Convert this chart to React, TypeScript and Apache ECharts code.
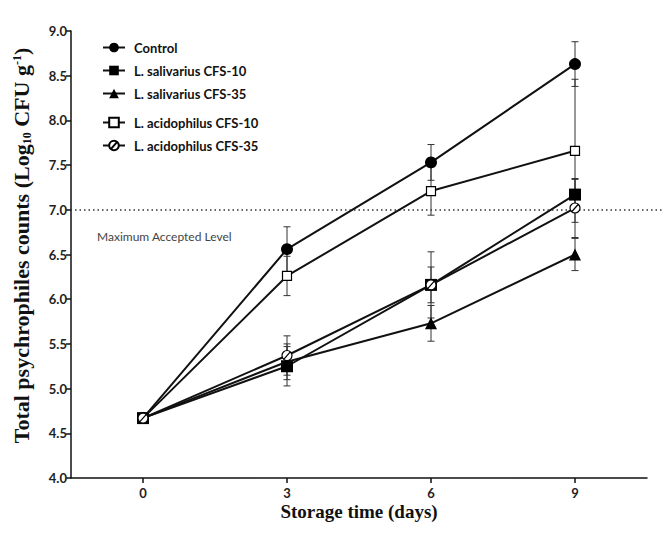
import React, { useEffect, useRef } from "react";
import * as echarts from "echarts";

const days = [0, 3, 6, 9];
const seriesNames = [
  "Control",
  "L. salivarius CFS-10",
  "L. salivarius CFS-35",
  "L. acidophilus CFS-10",
  "L. acidophilus CFS-35",
];
const controlMean = [4.67, 6.56, 7.53, 8.63];
const controlSd = [0, 0.25, 0.2, 0.25];
const salivarius10Mean = [4.67, 5.25, 6.16, 7.17];
const salivarius10Sd = [0, 0.22, 0.37, 0.17];
const salivarius35Mean = [4.67, 5.3, 5.73, 6.5];
const salivarius35Sd = [0, 0.2, 0.2, 0.18];
const acidophilus10Mean = [4.67, 6.26, 7.21, 7.66];
const acidophilus10Sd = [0, 0.22, 0.27, 0.8];
const acidophilus35Mean = [4.67, 5.37, 6.16, 7.02];
const acidophilus35Sd = [0, 0.22, 0.2, 0.33];
const yTicks = [4, 9, 0.5];
const limitValue = 7.0;

const slashCircle =
  "path://M0,10 A10,10 0 1,1 20,10 A10,10 0 1,1 0,10 Z M3,18 L17,2";

export default function App() {
  const ref = useRef<HTMLDivElement>(null);
  useEffect(() => {
    const chart = echarts.init(ref.current!, null, { renderer: "svg" });
    const means = [controlMean, salivarius10Mean, salivarius35Mean, acidophilus10Mean, acidophilus35Mean];
    const sds = [controlSd, salivarius10Sd, salivarius35Sd, acidophilus10Sd, acidophilus35Sd];
    const symbols = ["circle", "rect", "triangle", "rect", slashCircle];
    const sizes = [12, 12, 12, 9, 10];
    const fills = ["#000", "#000", "#000", "#fff", "#fff"];

    const errData: number[][] = [];
    means.forEach((m, si) => {
      m.forEach((v, i) => {
        if (sds[si][i] > 0) errData.push([days[i], v - sds[si][i], v + sds[si][i]]);
      });
    });

    const lineSeries = seriesNames.map((name, si) => ({
      name,
      type: "line",
      xAxisIndex: 0,
      yAxisIndex: 0,
      data: days.map((d, i) => [d, means[si][i]]),
      symbol: symbols[si],
      symbolSize: sizes[si],
      showAllSymbol: true,
      lineStyle: { color: "#111", width: 2 },
      itemStyle: { color: fills[si], borderColor: "#000", borderWidth: si >= 3 ? 1.2 : 0 },
      z: 3 + si,
    }));

    const legendText = {
      fontFamily: "Lato",
      fontWeight: "bold",
      fontSize: 13,
      color: "#111",
      padding: [0, 0, 0, 4],
    };

    chart.setOption({
      animation: false,
      backgroundColor: "#fff",
      legend: [
        {
          data: seriesNames.slice(0, 3),
          orient: "vertical",
          left: 102,
          top: 41,
          padding: 0,
          itemWidth: 22,
          itemHeight: 12,
          itemGap: 10,
          textStyle: legendText,
        },
        {
          data: seriesNames.slice(3),
          orient: "vertical",
          left: 102,
          top: 116,
          padding: 0,
          itemWidth: 22,
          itemHeight: 12,
          itemGap: 10,
          textStyle: legendText,
        },
      ],
      grid: [
        { left: 66, right: 19, top: 31, bottom: 61, containLabel: false },
        { left: 66, right: 3, top: 31, bottom: 61, containLabel: false },
      ],
      xAxis: [
        {
          type: "value",
          gridIndex: 0,
          min: -1.5,
          max: 10.5,
          name: "Storage time (days)",
          nameLocation: "middle",
          nameGap: 24,
          nameMoveOverlap: false,
          nameTextStyle: {
            fontFamily: "Liberation Serif",
            fontWeight: "bold",
            fontSize: 19,
            color: "#111",
          },
          axisLine: { onZero: false, lineStyle: { color: "#111", width: 1.5 } },
          axisTick: { customValues: days, length: 5, lineStyle: { color: "#111", width: 1.5 } },
          axisLabel: {
            customValues: days,
            fontFamily: "Lato",
            fontWeight: "bold",
            fontSize: 13,
            color: "#222",
            margin: 8,
          },
          splitLine: { show: false },
        },
        { type: "value", gridIndex: 1, min: 0, max: 1, show: false },
      ],
      yAxis: [
        {
          type: "value",
          gridIndex: 0,
          min: yTicks[0],
          max: yTicks[1],
          interval: yTicks[2],
          name: "{a|Total psychrophiles counts (Log}{sub|10}{a| CFU g}{sup|-1}{a|)}",
          nameLocation: "middle",
          nameGap: 36,
          nameMoveOverlap: false,
          nameTextStyle: {
            padding: [0, 0, 0, 18],
            rich: {
              a: { fontFamily: "Liberation Serif", fontWeight: "bold", fontSize: 22, color: "#111", lineHeight: 27, verticalAlign: "middle" },
              sub: { fontFamily: "Liberation Serif", fontWeight: "bold", fontSize: 12, color: "#111", lineHeight: 27, verticalAlign: "bottom", padding: [0, 0, 2, 0] },
              sup: { fontFamily: "Liberation Serif", fontWeight: "bold", fontSize: 12, color: "#111", lineHeight: 27, verticalAlign: "top", padding: [3, 0, 0, 0] },
            },
          },
          axisLine: { show: true, onZero: false, lineStyle: { color: "#111", width: 1.5 } },
          axisTick: { show: true, length: 5, lineStyle: { color: "#111", width: 1.5 } },
          axisLabel: {
            formatter: (v: number) => v.toFixed(1),
            fontFamily: "Lato",
            fontWeight: "bold",
            fontSize: 13,
            color: "#222",
            margin: 4,
          },
          splitLine: { show: false },
        },
        { type: "value", gridIndex: 1, min: yTicks[0], max: yTicks[1], show: false },
      ],
      series: [
        {
          type: "custom",
          name: "error",
          xAxisIndex: 0,
          yAxisIndex: 0,
          data: errData,
          z: 2,
          renderItem: (params: any, api: any) => {
            const x = api.value(0);
            const lo = api.coord([x, api.value(1)]);
            const hi = api.coord([x, api.value(2)]);
            const cap = 3.5;
            const style = { stroke: "#333", lineWidth: 1 };
            return {
              type: "group",
              children: [
                { type: "line", shape: { x1: lo[0], y1: lo[1], x2: hi[0], y2: hi[1] }, style },
                { type: "line", shape: { x1: lo[0] - cap, y1: lo[1], x2: lo[0] + cap, y2: lo[1] }, style },
                { type: "line", shape: { x1: hi[0] - cap, y1: hi[1], x2: hi[0] + cap, y2: hi[1] }, style },
              ],
            };
          },
        },
        ...lineSeries,
        {
          type: "line",
          name: "limit",
          xAxisIndex: 1,
          yAxisIndex: 1,
          data: [],
          z: 1,
          markLine: {
            silent: true,
            symbol: "none",
            lineStyle: { type: [1.5, 3], color: "#333", width: 1.5 },
            label: { show: false },
            data: [{ yAxis: limitValue }],
          },
        },
      ],
      graphic: [
        {
          type: "text",
          x: 97,
          y: 230,
          style: {
            text: "Maximum Accepted Level",
            fontFamily: "Lato",
            fontSize: 12,
            fill: "#444",
            align: "left",
            verticalAlign: "top",
          },
        },
      ],
    });
    return () => chart.dispose();
  }, []);
  return (
    <div
      ref={ref}
      style={{ position: "fixed", left: 0, top: 0, width: 666, height: 539 }}
    />
  );
}
